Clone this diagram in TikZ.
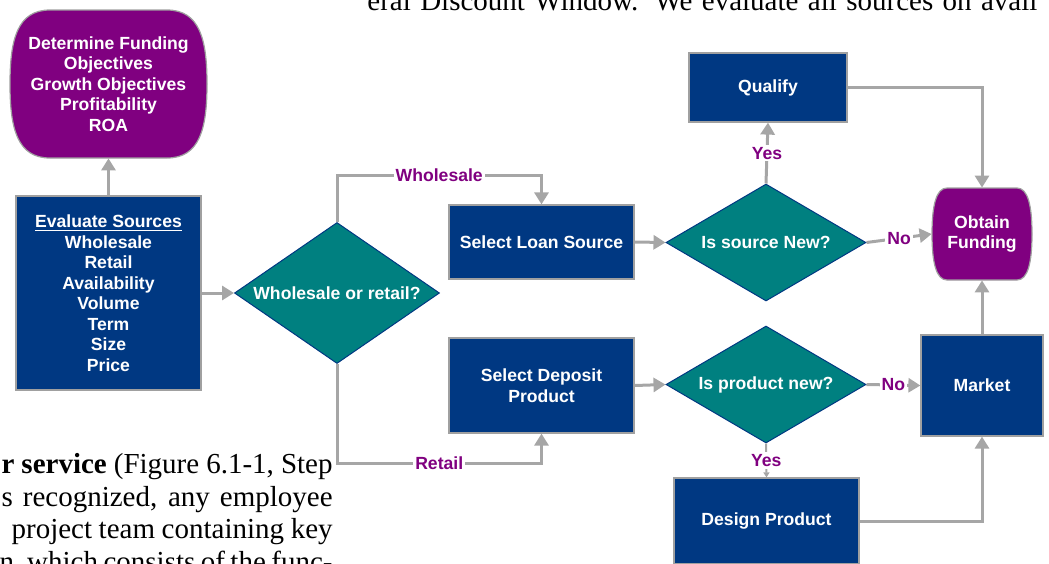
\documentclass[tikz,border=0pt]{standalone}
\usepackage{fontspec}
\setmainfont{Liberation Serif}
\newfontfamily\dsans{Liberation Sans}
\usetikzlibrary{arrows.meta,shapes.geometric,backgrounds}
\definecolor{navy}{RGB}{0,56,130}
\definecolor{plum}{RGB}{128,0,128}
\definecolor{tealc}{RGB}{0,128,128}
\definecolor{linegray}{RGB}{166,166,166}
\definecolor{bord}{RGB}{160,160,160}
\begin{document}
\begin{tikzpicture}[x=0.5pt,y=-0.5pt,
 dtext/.style={font=\dsans\bfseries\fontsize{8.8}{10.25}\selectfont, text=white, align=center},
 boxn/.style={dtext, draw=bord, line width=0.6pt, fill=navy, inner sep=0pt},
 termn/.style={dtext, inner sep=0pt},
 termshape/.style={draw=bord, line width=0.6pt, fill=plum},
 decn/.style={dtext, shape=diamond, draw=navy, line width=0.5pt, fill=tealc, inner sep=0pt},
 conn/.style={draw=linegray, line width=1.5pt, -{Triangle[width=7pt,length=6pt]}},
 thinconn/.style={draw=linegray, line width=1pt, -{Triangle[width=3pt,length=2.5pt]}},
 lbl/.style={font=\dsans\bfseries\fontsize{8.8}{10.25}\selectfont, text=plum, fill=white, inner sep=1pt},
 body/.style={font=\fontsize{14.5}{17}\selectfont, inner sep=0pt}
]
\useasboundingbox (0,0) rectangle (1049,563);
\clip (0,0) rectangle (1049,563);

% surrounding document text
\node[body, anchor=base west] (t0) at (367,10.5) {\makebox[335pt][s]{eral Discount Window. We evaluate all sources on avail}};
\node[body, anchor=base east] (t1) at (333,473) {\makebox[165.5pt][s]{\textbf{r service} (Figure 6.1-1, Step}};
\node[body, anchor=base east] (t2) at (333,506) {\makebox[165.5pt][s]{s recognized, any employee}};
\node[body, anchor=base east] (t3) at (333,538) {\makebox[160.5pt][s]{project team containing key}};
\node[body, anchor=base east] (t4) at (333,571) {\makebox[166.5pt][s]{n, which consists of the func-}};

% nodes
\node[termn, minimum width=98.5pt, minimum height=74pt] (det) at (108.5,84)
  {Determine Funding\\Objectives\\Growth Objectives\\Profitability\\ROA};
\node[boxn, minimum width=92.5pt, minimum height=97pt] (ev) at (108.5,293)
  {\underline{Evaluate Sources}\\Wholesale\\Retail\\Availability\\Volume\\Term\\Size\\Price};
\node[decn, aspect=1.45, minimum width=102.5pt, minimum height=70.5pt] (wr) at (337,293) {Wholesale or retail?};
\node[boxn, minimum width=92.5pt, minimum height=37pt] (sl) at (541.5,242) {Select Loan Source};
\node[boxn, minimum width=92.5pt, minimum height=47.5pt] (sd) at (541.5,385.5) {Select Deposit\\Product};
\node[decn, aspect=1.7, minimum width=100pt, minimum height=58.5pt] (isn) at (766,242.5) {Is source New?};
\node[decn, aspect=1.7, minimum width=100pt, minimum height=58.5pt] (ipn) at (766,384.5) {Is product new?};
\node[boxn, minimum width=79pt, minimum height=34.5pt] (q) at (768,87.5) {Qualify};
\node[termn, minimum width=50pt, minimum height=46pt] (obt) at (982,234) {Obtain\\Funding};
\node[boxn, minimum width=61pt, minimum height=50.5pt] (mk) at (982,385.5) {Market};
\node[boxn, minimum width=92.5pt, minimum height=43pt] (dp) at (766.5,521) {Design Product};

% terminator outlines (barrel shapes behind their texts)
\begin{scope}[on background layer]
\path[termshape, shift={(det.center)}]
  (-58.5,-74) -- (58.5,-74) .. controls (91.5,-74) and (98.5,-44) .. (98.5,0)
  .. controls (98.5,44) and (91.5,74) .. (58.5,74) -- (-58.5,74)
  .. controls (-91.5,74) and (-98.5,44) .. (-98.5,0)
  .. controls (-98.5,-44) and (-91.5,-74) .. (-58.5,-74) -- cycle;
\path[termshape, shift={(obt.center)}]
  (-35,-46) -- (35,-46) .. controls (46,-46) and (50,-28) .. (50,0)
  .. controls (50,28) and (46,46) .. (35,46) -- (-35,46)
  .. controls (-46,46) and (-50,28) .. (-50,0)
  .. controls (-50,-28) and (-46,-46) .. (-35,-46) -- cycle;
\end{scope}

% connectors
\draw[conn] (ev.north) -- (det.south);
\draw[conn] (ev.east) -- (wr.west);
\draw[conn] (wr.north) -- ++(0,-47) -| (sl.north) node[lbl,pos=0.25]{Wholesale};
\draw[conn] (wr.south) -- ++(0,99) -| (sd.south) node[lbl,pos=0.25]{Retail};
\draw[conn] (sl.east) -- (isn.west);
\draw[conn] (isn.north) -- (q.south) node[lbl,midway]{Yes};
\draw[conn] (q.east) -| (obt.north);
\draw[conn] (isn.east) -- (obt.west) node[lbl,midway]{No};
\draw[conn] (sd.east) -- (ipn.west);
\draw[conn] (ipn.east) -- (mk.west) node[lbl,midway]{No};
\draw[thinconn] (ipn.south) -- (dp.north) node[lbl,midway]{Yes};
\draw[conn] (mk.north) -- (obt.south);
\draw[conn] (dp.east) -| (mk.south);
\end{tikzpicture}
\end{document}
